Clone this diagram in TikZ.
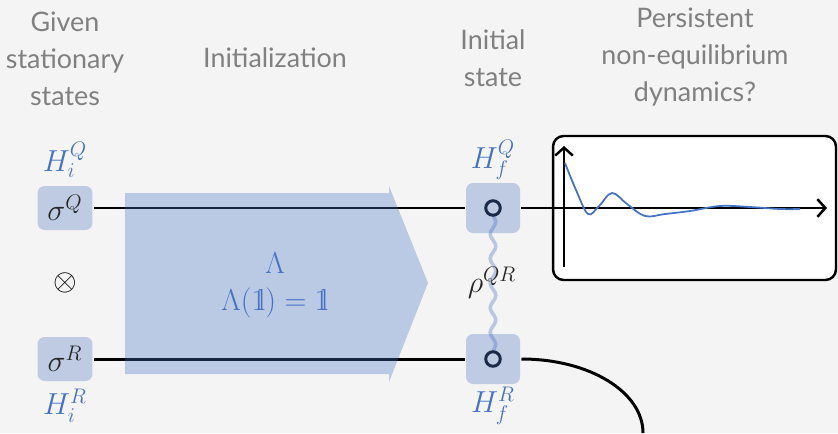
\documentclass[tikz,border=0pt]{standalone}
\usepackage[no-math]{fontspec}
\usetikzlibrary{arrows.meta, positioning, decorations.pathmorphing}
\newfontfamily\headfont{Lato}
\definecolor{bggray}{HTML}{F4F4F4}
\definecolor{headgray}{HTML}{808080}
\definecolor{qblue}{HTML}{4472C4}
\definecolor{boxblue}{RGB}{190,203,227}
\definecolor{navy}{HTML}{1B2A48}
\newcommand{\idop}{\mathrm{1}\mkern-4.6mu\mathrm{l}}

\begin{document}
\begin{tikzpicture}[x=0.02cm, y=-0.02cm, line width=1.7pt,
    head/.style={font=\headfont\fontsize{15.3}{21}\selectfont, text=headgray, align=center},
    lbl/.style={font=\fontsize{17}{19}\selectfont, text=qblue, inner sep=1pt},
    sbox/.style={fill=boxblue, rounded corners=4pt, minimum width=1.1cm, minimum height=0.88cm, font=\fontsize{17.5}{19}\selectfont, text=black!85},
    fbox/.style={fill=boxblue, rounded corners=4pt, minimum width=1.08cm, minimum height=1.0cm},
    dot/.style={circle, draw=navy, line width=1.7pt, minimum size=0.29cm, inner sep=0pt},
    axis/.style={line width=1.4pt, -{Straight Barb[length=4.5pt, width=10pt]}}]
    \useasboundingbox (0,0) rectangle (838,433);
    \fill[bggray] (0,0) rectangle (838,433);
    % headers
    \node[head] (h1) at (65,59) {Given\\stationary\\states};
    \node[head] (h2) at (275,58) {Initialization};
    \node[head] (h3) at (493,58) {Initial\\state};
    \node[head] (h4) at (695,57) {Persistent\\non-equilibrium\\dynamics?};
    % given states
    \node[sbox] (sQ) at (65,208) {$\sigma^Q$};
    \node[sbox] (sR) at (65,359) {$\sigma^R$};
    \node[lbl] (HiQ) at (65,160) {$H_i^Q$};
    \node[lbl] (HiR) at (65,406) {$H_i^R$};
    \node[font=\fontsize{17}{19}\selectfont] (otimes) at (65,283) {$\otimes$};
    % initial state
    \node[fbox] (fQ) at (493,208) {};
    \node[fbox] (fR) at (493,359) {};
    \node[lbl] (HfQ) at (493,160) {$H_f^Q$};
    \node[lbl] (HfR) at (493,406) {$H_f^R$};
    \draw[qblue, opacity=0.35, line width=2pt,
      decorate, decoration={snake, segment length=14pt, amplitude=1.6pt}] (493,214) -- (493,353);
    \node[dot] (cQ) at (493,208) {};
    \node[dot] (cR) at (493,359) {};
    \node[font=\fontsize{17.5}{19}\selectfont, text=black!85] (rho) at (492,283) {$\rho^{QR}$};
    % plot
    \node[draw, fill=white, rounded corners=6pt, line width=1.4pt,
      minimum width=5.66cm, minimum height=2.88cm] (plot) at (694.5,208) {};
    \coordinate (xend) at (827,208);
    \coordinate (ybot) at (564,267);
    \coordinate (ytop) at (564,146);
    \coordinate (rend) at (643,433);
    % wires
    \draw (sQ) -- (fQ);
    \draw (sR) -- (fR);
    \draw (fQ) -- (plot.west |- fQ);
    \draw[axis] (plot.west |- fQ) -- (xend);
    \draw[axis] (ybot) -- (ytop);
    \draw (fR.east) .. controls +(68,0) and +(0,-41) .. (rend);
    \draw[qblue, line width=1pt] plot[smooth, tension=0.6] coordinates {(565,163) (576,190) (588,214) (599,206) (612,193) (627,204) (645,216) (665,214) (690,211) (720,206) (750,207) (780,209) (800,209)};
    % initialization map
    \fill[qblue, opacity=0.33] (125,193) -- (389,193) -- (389,186) -- (428,283)
      -- (389,382) -- (389,374) -- (125,374) -- cycle;
    \node[font=\fontsize{16.5}{21}\selectfont, text=qblue, align=center] (lam) at (275,285)
      {$\Lambda$\\$\Lambda(\idop)=\idop$};
\end{tikzpicture}
\end{document}
